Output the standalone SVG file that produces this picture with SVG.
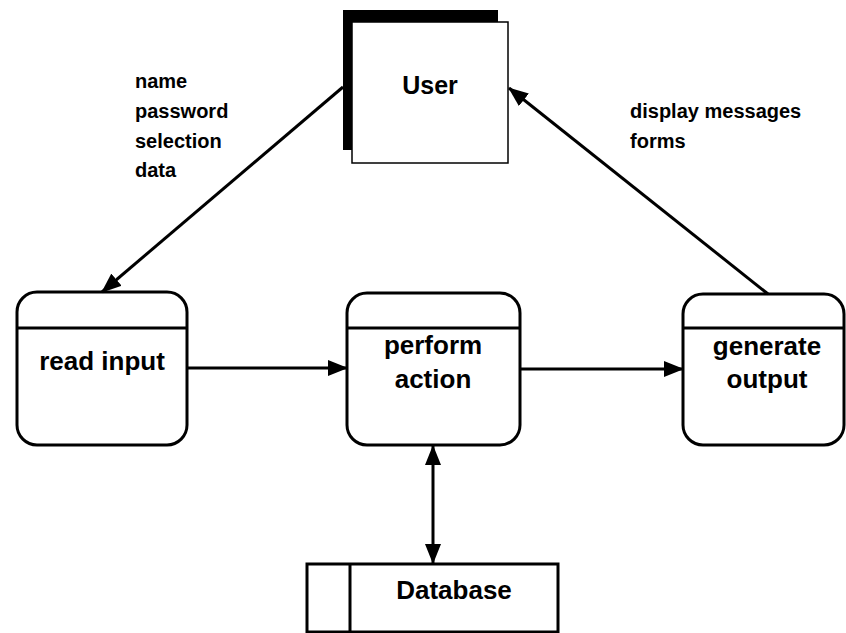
<svg xmlns="http://www.w3.org/2000/svg" width="846" height="633" viewBox="0 0 846 633">
<style>
.box{fill:#fff;stroke:#000;stroke-width:3}
.div{stroke:#000;stroke-width:3}
.conn{fill:none;stroke:#000;stroke-width:3}
.t{font-family:"Liberation Sans",Arial,sans-serif;font-weight:bold;fill:#000}
.node{font-size:26px;text-anchor:middle}
.lbl{font-size:20px}
</style>
<defs>
<marker id="ah" viewBox="0 0 20 16" refX="19" refY="8" markerWidth="20" markerHeight="16" markerUnits="userSpaceOnUse" orient="auto-start-reverse">
<path d="M0,0 L20,8 L0,16 Z" fill="#000"/>
</marker>
</defs>
<rect width="846" height="633" fill="#fff"/>
<g id="user">
<path d="M343,10 H498 V22 H353 V150 H343 Z" fill="#000"/>
<rect x="352" y="22" width="156" height="141" fill="#fff" stroke="#000" stroke-width="1.5"/>
<text class="t node" x="430" y="94" style="font-size:25px">User</text>
</g>
<g id="read-input">
<rect class="box" x="17" y="292" width="170" height="153" rx="20"/>
<line class="div" x1="17" y1="328" x2="187" y2="328"/>
<text class="t node" x="102" y="370">read input</text>
</g>
<g id="perform-action">
<rect class="box" x="347" y="293" width="173" height="152" rx="20"/>
<line class="div" x1="347" y1="328" x2="520" y2="328"/>
<text class="t node" x="433" y="354">perform</text>
<text class="t node" x="433" y="388">action</text>
</g>
<g id="generate-output">
<rect class="box" x="683" y="294" width="161" height="151" rx="20"/>
<line class="div" x1="683" y1="328" x2="844" y2="328"/>
<text class="t node" x="767" y="355">generate</text>
<text class="t node" x="767" y="388">output</text>
</g>
<g id="database">
<rect class="box" x="307" y="564" width="251" height="68" stroke-width="2.5"/>
<line class="div" x1="350" y1="564" x2="350" y2="632" stroke-width="2.5"/>
<text class="t node" x="454" y="599">Database</text>
</g>
<g id="connectors">
<line class="conn" x1="343" y1="87" x2="102" y2="292" marker-end="url(#ah)"/>
<line class="conn" x1="768" y1="294" x2="509" y2="88" marker-end="url(#ah)"/>
<line class="conn" x1="187" y1="368" x2="347" y2="368" marker-end="url(#ah)"/>
<line class="conn" x1="520" y1="369" x2="683" y2="369" marker-end="url(#ah)"/>
<line class="conn" x1="433" y1="446" x2="433" y2="563" marker-start="url(#ah)" marker-end="url(#ah)"/>
</g>
<g id="labels">
<text class="t lbl" x="135" y="88">name</text>
<text class="t lbl" x="135" y="118">password</text>
<text class="t lbl" x="135" y="148">selection</text>
<text class="t lbl" x="135" y="177">data</text>
<text class="t lbl" x="630" y="118">display messages</text>
<text class="t lbl" x="630" y="148">forms</text>
</g>
</svg>
